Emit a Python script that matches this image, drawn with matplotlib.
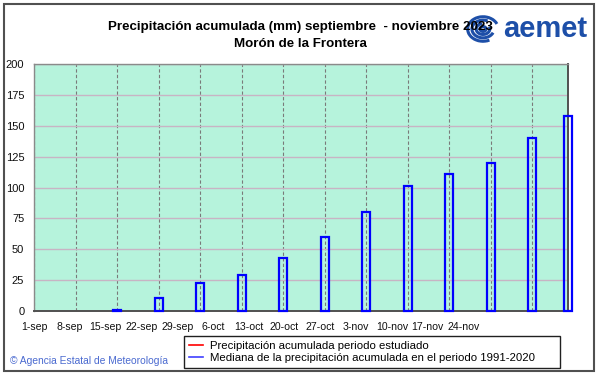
import numpy as np
import pandas as pd
import matplotlib
matplotlib.use('Agg')
import matplotlib.pyplot as plt
from matplotlib.patches import Rectangle, Arc
from matplotlib.lines import Line2D

plt.rcParams['font.family'] = ['Liberation Sans', 'DejaVu Sans']

# datos (mediana 1991-2020, mm acumulados)
start = '2023-09-01'
end = '2023-11-30'
bar_dates = ['2023-09-15', '2023-09-22', '2023-09-29', '2023-10-06', '2023-10-13',
             '2023-10-20', '2023-10-27', '2023-11-03', '2023-11-10', '2023-11-17',
             '2023-11-24', '2023-11-30']
median_mm = [0.5, 10.6, 22.5, 29.2, 43.3, 60.2, 80.1, 101.0, 111.2, 119.5, 140.4, 157.8]
week_labels = ['1-sep', '8-sep', '15-sep', '22-sep', '29-sep', '6-oct', '13-oct',
               '20-oct', '27-oct', '3-nov', '10-nov', '17-nov', '24-nov']
y_ticks = [0, 25, 50, 75, 100, 125, 150, 175, 200]

title = 'Precipitación acumulada (mm) septiembre  - noviembre 2023'
station = 'Morón de la Frontera'
legend_labels = ['Precipitación acumulada periodo estudiado',
                 'Mediana de la precipitación acumulada en el periodo 1991-2020']

W, H = 601, 374
t0 = pd.Timestamp(start)
days = (pd.to_datetime(bar_dates) - t0).days.values
n_days = (pd.Timestamp(end) - t0).days

fig = plt.figure(figsize=(W / 100, H / 100), dpi=100)
fig.patch.set_facecolor('white')
ax = fig.add_axes([34 / W, 1 - 311 / H, (568 - 34) / W, (311 - 64) / H])
ax.set_facecolor('#b6f3dc')

ax.bar(days, median_mm, width=1.35, facecolor='none', edgecolor='#0000ff',
       linewidth=1.6, zorder=3, clip_on=False)

ax.set_xlim(0, n_days)
ax.set_ylim(0, 200)
ax.set_xticks(np.arange(0, n_days - 1, 7))
ax.set_yticks(y_ticks)
ax.set_axisbelow(True)
ax.xaxis.grid(True, linestyle=(0, (3, 2)), color='#7a7a7a', linewidth=0.8)
ax.yaxis.grid(True, color='#c8b4c4', linewidth=1.0)
ax.tick_params(axis='x', length=0, labelbottom=False)
ax.tick_params(axis='y', length=0, pad=7, labelsize=8, labelcolor='#101010')
for s in ['left', 'top']:
    ax.spines[s].set_color('#8a8a8a')
    ax.spines[s].set_linewidth(1.0)
for s in ['right', 'bottom']:
    ax.spines[s].set_color('#505050')
    ax.spines[s].set_linewidth(1.4)

# las etiquetas del eje x no coinciden con la rejilla en el original
lab = ax.twiny()
lab.set_xlim(0.111, 14.92)
lab.set_xticks(range(len(week_labels)))
lab.set_xticklabels(week_labels)
lab.xaxis.set_ticks_position('bottom')
lab.tick_params(length=0, pad=8, labelsize=7.6, labelcolor='#101010')
for s in lab.spines.values():
    s.set_visible(False)

fig.text(0.5, 1 - 27 / H, title, ha='center', va='center', fontsize=9.6, weight='bold')
fig.text(0.5, 1 - 44 / H, station, ha='center', va='center', fontsize=9.6, weight='bold')

# logo aemet aproximado
logo = fig.add_axes([466 / W, 1 - 46 / H, 34 / W, 34 / H])
logo.set_xlim(-1, 1)
logo.set_ylim(-1, 1)
logo.set_aspect('equal')
logo.axis('off')
logo.add_patch(plt.Circle((0, 0), 0.95, color='white'))
for r, a1, a2 in [(0.9, 20, 300), (0.65, 60, 340), (0.4, 100, 380), (0.18, 0, 360)]:
    logo.add_patch(Arc((0, 0), 2 * r, 1.6 * r, theta1=a1, theta2=a2,
                       color='#1d4fa8', lw=2.2))
fig.text(545 / W, 1 - 29 / H, 'aemet', ha='center', va='center', fontsize=21,
         weight='bold', color='#1d4fa8')

handles = [Line2D([], [], color='#ff0000', lw=1.2),
           Line2D([], [], color='#4040ff', lw=1.2)]
fig.legend(handles, legend_labels, loc='lower left', mode='expand',
           bbox_to_anchor=(184 / W, 1 - 368 / H, (560 - 184) / W, 33 / H),
           bbox_transform=fig.transFigure,
           fontsize=8.2, frameon=True, fancybox=False, edgecolor='#202020',
           framealpha=1, handlelength=1.3, handletextpad=0.6, labelspacing=0.25,
           borderpad=0.4, borderaxespad=0)

fig.text(10 / W, 1 - 361 / H, '© Agencia Estatal de Meteorología', ha='left',
         va='center', fontsize=7.4, color='#4a6ad0')

fig.add_artist(Rectangle((4 / W, 3 / H), 590 / W, 367 / H, transform=fig.transFigure,
                         fill=False, edgecolor='#505050', linewidth=1.5))

fig.savefig('out.png', dpi=100)
